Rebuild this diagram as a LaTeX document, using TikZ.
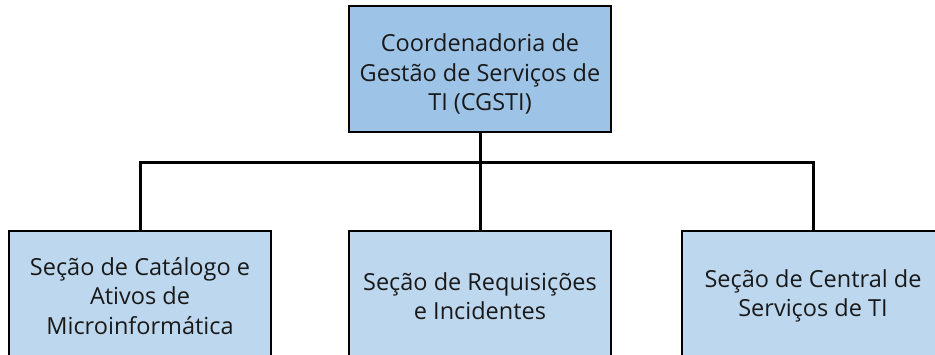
\documentclass[tikz,border=0pt]{standalone}
\usepackage{fontspec}
\setmainfont{Open Sans}
\begin{document}
\begin{tikzpicture}[x=1pt,y=1pt,
  box/.style={draw=black, line width=2pt, minimum width=262pt, align=center, inner sep=0pt, font=\fontsize{23.5}{29.5}\selectfont, text=black!90},
  topbox/.style={box, fill={rgb,255:red,157;green,195;blue,230}, minimum height=126pt},
  subbox/.style={box, fill={rgb,255:red,189;green,215;blue,238}, minimum height=130pt},
  conn/.style={line width=3pt, black}]
\useasboundingbox (0,0) rectangle (935,-354);
\clip (0,0) rectangle (935,-354);
\node[topbox] (top) at (480,-69) {\rule{0pt}{28pt}Coordenadoria de\\Gestão de Serviços de\\TI (CGSTI)};
\node[subbox] (left) at (140,-296) {Seção de Catálogo e\\Ativos de\\Microinformática};
\node[subbox] (mid) at (480,-296) {Seção de Requisições\\e Incidentes};
\node[subbox] (right) at (813,-296) {Seção de Central de\\Serviços de TI};
\coordinate (bus) at (480,-162);
\draw[conn] (top.south) -- (bus);
\draw[conn] (bus) -| (left.north);
\draw[conn] (bus) -| (right.north);
\draw[conn] (bus) -- (mid.north);
\end{tikzpicture}
\end{document}
